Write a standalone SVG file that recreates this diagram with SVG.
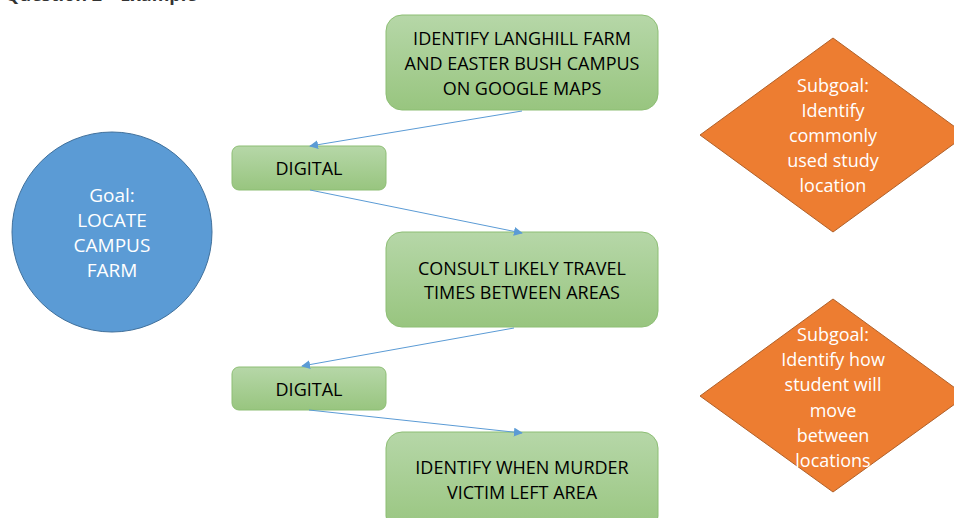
<svg xmlns="http://www.w3.org/2000/svg" width="954" height="518" viewBox="0 0 954 518">
<defs>
<linearGradient id="g" x1="0" y1="0" x2="0" y2="1">
<stop offset="0" stop-color="#B6D7A8"/>
<stop offset="1" stop-color="#98C57F"/>
</linearGradient>
<marker id="a" viewBox="0 0 10 10" refX="9" refY="5" markerWidth="9" markerHeight="9" markerUnits="userSpaceOnUse" orient="auto">
<path d="M0,0 L10,5 L0,10 z" fill="#5B9BD5"/>
</marker>
<style>
.box{fill:url(#g);stroke:#8DBE74;stroke-width:1}
.bt{font-family:"Open Sans","Liberation Sans",sans-serif;font-size:18px;fill:#000;text-anchor:middle;dominant-baseline:central}
.wt{font-family:"Open Sans","Liberation Sans",sans-serif;font-size:18px;fill:#fff;text-anchor:middle;dominant-baseline:central}
.gt{font-size:19px}
.dia{fill:#ED7D31;stroke:#B0612A;stroke-width:1}
.con{stroke:#5B9BD5;stroke-width:1;fill:none;marker-end:url(#a)}
</style>
</defs>
<rect width="954" height="518" fill="#fff"/>
<text x="5" y="1" style="font-family:'Open Sans','Liberation Sans',sans-serif;font-size:18px;font-weight:bold;fill:#333">Question 2 – Example</text>
<g id="goal">
<circle cx="112" cy="232" r="100" fill="#5B9BD5" stroke="#41719C" stroke-width="1"/>
<text class="wt gt" x="112" y="195">Goal:</text>
<text class="wt gt" x="112" y="220">LOCATE</text>
<text class="wt gt" x="112" y="245">CAMPUS</text>
<text class="wt gt" x="112" y="270">FARM</text>
</g>
<g id="step1">
<rect class="box" x="386" y="15" width="272" height="95" rx="16"/>
<text class="bt" x="522" y="38">IDENTIFY LANGHILL FARM</text>
<text class="bt" x="522" y="63">AND EASTER BUSH CAMPUS</text>
<text class="bt" x="522" y="88">ON GOOGLE MAPS</text>
</g>
<g id="digital1">
<rect class="box" x="232" y="146" width="154" height="44" rx="7"/>
<text class="bt" x="309" y="168">DIGITAL</text>
</g>
<g id="step2">
<rect class="box" x="386" y="232" width="272" height="95" rx="16"/>
<text class="bt" x="522" y="268">CONSULT LIKELY TRAVEL</text>
<text class="bt" x="522" y="292">TIMES BETWEEN AREAS</text>
</g>
<g id="digital2">
<rect class="box" x="232" y="367" width="154" height="43" rx="7"/>
<text class="bt" x="309" y="389">DIGITAL</text>
</g>
<g id="step3">
<rect class="box" x="386" y="432" width="272" height="100" rx="16"/>
<text class="bt" x="522" y="467">IDENTIFY WHEN MURDER</text>
<text class="bt" x="522" y="492">VICTIM LEFT AREA</text>
</g>
<g id="subgoal1">
<polygon class="dia" points="833,38 966,135 833,232 700,135"/>
<text class="wt" x="833" y="85">Subgoal:</text>
<text class="wt" x="833" y="110">Identify</text>
<text class="wt" x="833" y="135">commonly</text>
<text class="wt" x="833" y="160">used study</text>
<text class="wt" x="833" y="185">location</text>
</g>
<g id="subgoal2">
<polygon class="dia" points="833,299 966,396 833,492 700,396"/>
<text class="wt" x="833" y="334">Subgoal:</text>
<text class="wt" x="833" y="359">Identify how</text>
<text class="wt" x="833" y="384">student will</text>
<text class="wt" x="833" y="410">move</text>
<text class="wt" x="833" y="435">between</text>
<text class="wt" x="833" y="460">locations</text>
</g>
<g id="connectors">
<line class="con" x1="522" y1="111" x2="310" y2="146"/>
<line class="con" x1="310" y1="190" x2="522" y2="233"/>
<line class="con" x1="514" y1="328" x2="302" y2="366"/>
<line class="con" x1="309" y1="410" x2="522" y2="433"/>
</g>
</svg>
